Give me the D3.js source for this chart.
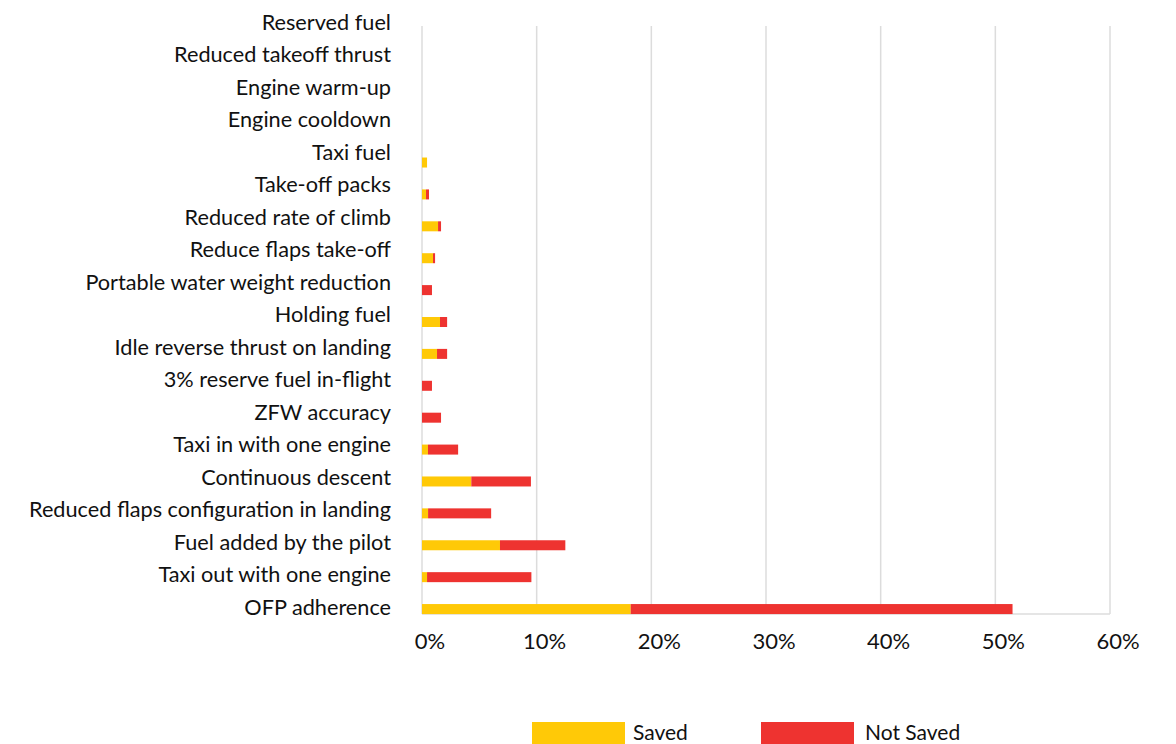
<!DOCTYPE html>
<html><head><meta charset="utf-8">
<script src="https://cdn.jsdelivr.net/npm/d3@7"></script>
<style>html,body{margin:0;padding:0;background:#fff;}svg{display:block;}</style>
</head><body>
<svg id="c" width="1176" height="744"></svg>
<script>
const categories = ["Reserved fuel","Reduced takeoff thrust","Engine warm-up","Engine cooldown","Taxi fuel","Take-off packs","Reduced rate of climb","Reduce flaps take-off","Portable water weight reduction","Holding fuel","Idle reverse thrust on landing","3% reserve fuel in-flight","ZFW accuracy","Taxi in with one engine","Continuous descent","Reduced flaps configuration in landing","Fuel added by the pilot","Taxi out with one engine","OFP adherence"];
const saved    = [0,0,0,0,0.44,0.35,1.4,0.96,0,1.57,1.31,0,0,0.52,4.3,0.53,6.8,0.44,18.2];
const notSaved = [0,0,0,0,0,0.26,0.26,0.18,0.87,0.62,0.88,0.87,1.66,2.63,5.2,5.5,5.7,9.1,33.3];
const xTicks = [0,10,20,30,40,50,60];
const seriesNames = ["Saved","Not Saved"];
const colors = ["#FFC907","#EE3330"];

const svg = d3.select("#c");
const font = "Lato, 'Open Sans', sans-serif";
const x = d3.scaleLinear().domain([0,60]).range([422,1110]);
const yBar = d3.scaleBand().domain(categories).range([19,625]).paddingInner(0);
const yLab = d3.scalePoint().domain(categories).range([22,607]);
const plotTop = 26, plotBottom = 614;

// gridlines
svg.append("g").selectAll("line").data(xTicks).join("line")
  .attr("x1",d=>x(d)).attr("x2",d=>x(d)).attr("y1",plotTop).attr("y2",plotBottom)
  .attr("stroke","#dcdcdc").attr("stroke-width",1.5);
svg.append("line").attr("x1",x(0)).attr("x2",x(60)).attr("y1",plotBottom).attr("y2",plotBottom)
  .attr("stroke","#dcdcdc").attr("stroke-width",1.5);

// bars
const stackData = categories.map((c,i)=>({cat:c, s:saved[i], n:notSaved[i]}));
const stack = d3.stack().keys(["s","n"])(stackData);
const barH = 10;
svg.append("g").selectAll("g").data(stack).join("g")
  .attr("fill",(d,i)=>colors[i])
  .selectAll("rect").data(d=>d).join("rect")
  .attr("x",d=>x(d[0]))
  .attr("width",d=>Math.max(0,x(d[1])-x(d[0])))
  .attr("y",d=>yBar(d.data.cat)+yBar.bandwidth()/2-barH/2)
  .attr("height",barH);

// category labels
svg.append("g").selectAll("text").data(categories).join("text")
  .attr("x",391).attr("y",d=>yLab(d)).attr("dy","0.35em")
  .attr("text-anchor","end").attr("font-family",font).attr("font-size",21.7)
  .attr("fill","#111").text(d=>d);

// x tick labels
svg.append("g").selectAll("text").data(xTicks).join("text")
  .attr("x",d=>x(d)+8).attr("y",641).attr("dy","0.35em")
  .attr("text-anchor","middle").attr("font-family",font).attr("font-size",22)
  .attr("fill","#111").text(d=>d+"%");

// legend
const legX = [532,761];
const legTextDx = [101,104];
const lg = svg.append("g").selectAll("g").data(seriesNames).join("g")
  .attr("transform",(d,i)=>`translate(${legX[i]},722)`);
lg.append("rect").attr("width",93).attr("height",22).attr("fill",(d,i)=>colors[i]);
lg.append("text").attr("x",(d,i)=>legTextDx[i]).attr("y",11).attr("dy","0.35em")
  .attr("font-family",font).attr("font-size",21).attr("fill","#111").text(d=>d);
</script>
</body></html>
